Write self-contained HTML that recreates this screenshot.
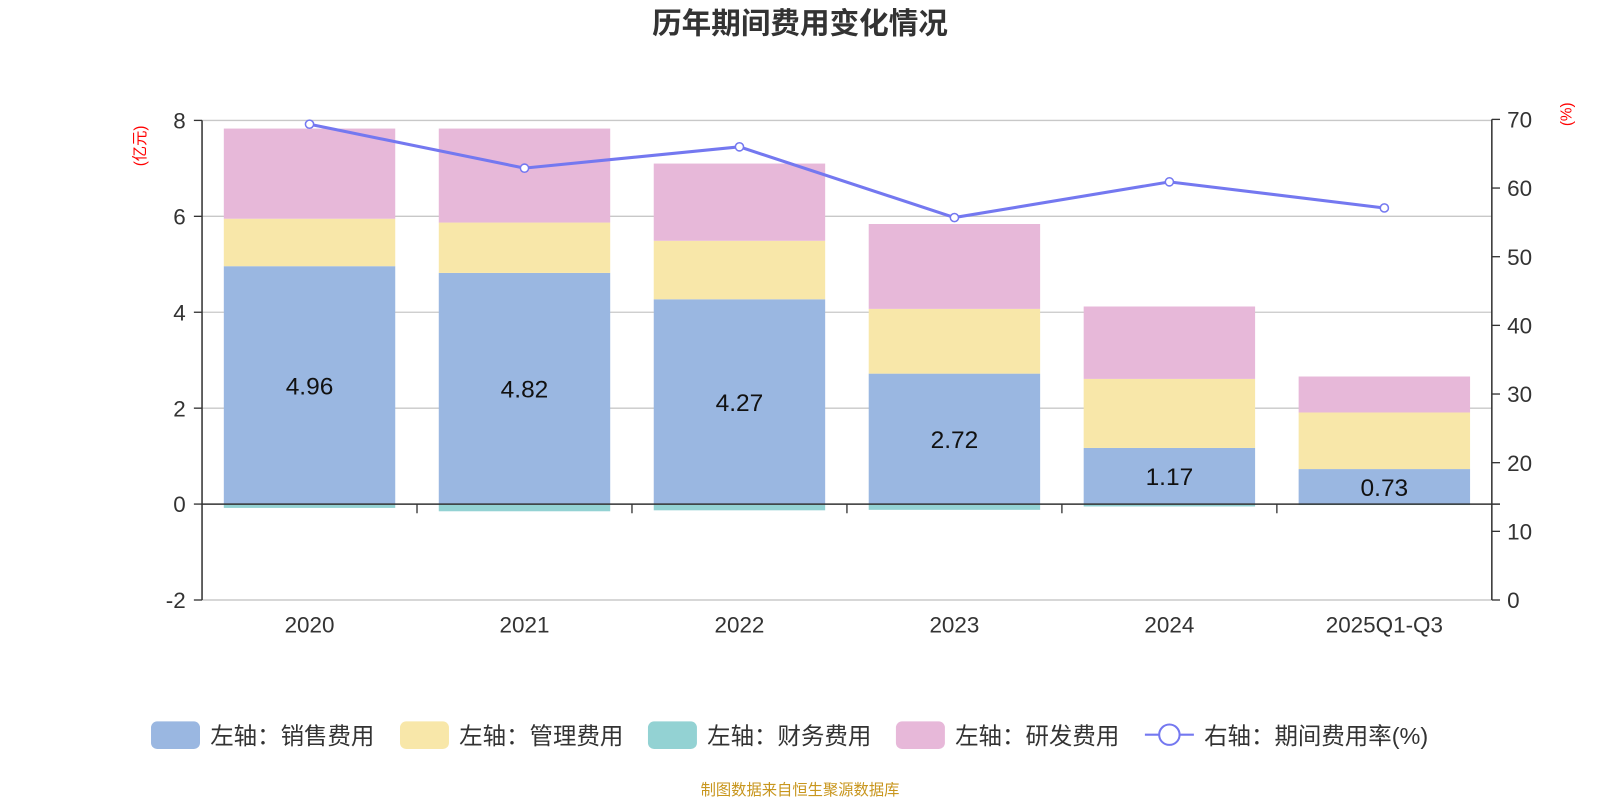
<!DOCTYPE html>
<html><head><meta charset="utf-8"><style>
body{margin:0;background:#fff;}
svg{display:block;font-family:"Liberation Sans","Noto Sans CJK SC",sans-serif;}
</style></head><body>
<svg id="chart" width="1600" height="800" viewBox="0 0 1568 784" preserveAspectRatio="none">
<text x="784" y="33" text-anchor="middle" font-size="29" font-weight="bold" fill="#333">历年期间费用变化情况</text>
<g id="grid"></g><g id="bars"></g><g id="axes"></g><g id="line"></g>
<text transform="translate(142,143) rotate(-90)" text-anchor="middle" font-size="15" fill="red">(亿元)</text>
<text transform="translate(1540,112) rotate(-90)" text-anchor="middle" font-size="15" fill="red">(%)</text>
<g id="legend"></g>
<text x="784" y="779" text-anchor="middle" font-size="15" fill="#c8961e">制图数据来自恒生聚源数据库</text>
</svg>
<script>
const categories=["2020","2021","2022","2023","2024","2025Q1-Q3"];
const sales=[4.96,4.82,4.27,2.72,1.17,0.73];
const mgmt=[0.99,1.05,1.22,1.35,1.44,1.18];
const finance=[-0.08,-0.15,-0.13,-0.12,-0.05,-0.02];
const rnd=[1.88,1.96,1.61,1.77,1.51,0.75];
const rate=[69.3,62.9,66.0,55.7,60.9,57.1];
const leftTicks=[-2,0,2,4,6,8];
const rightTicks=[0,10,20,30,40,50,60,70];

const NS="http://www.w3.org/2000/svg";
const X0=198,X1=1462,band=(X1-X0)/categories.length,barW=168;
const yL=v=>494-v*47;
const yR=v=>588-v*(471/70);
const xC=i=>X0+band*(i+0.5);
function mk(parent,tag,attrs,text){const e=document.createElementNS(NS,tag);for(const k in attrs)e.setAttribute(k,attrs[k]);if(text!==undefined)e.textContent=text;document.getElementById(parent).appendChild(e);return e;}

leftTicks.forEach(t=>{
  const y=yL(t);
  if(t!==0){const g=mk("grid","line",{x1:X0,x2:X1,y1:y,y2:y,stroke:"#c8c8c8","stroke-width":1.3});
  
  }
  mk("axes","line",{x1:X0-8,x2:X0,y1:y,y2:y,stroke:"#333","stroke-width":1.3});
  const l=mk("axes","text",{x:182,y:y+8,"text-anchor":"end","font-size":22,fill:"#333"},String(t));
  
  
});
rightTicks.forEach(t=>{
  const y=yR(t);
  mk("axes","line",{x1:X1,x2:X1+8,y1:y,y2:y,stroke:"#333","stroke-width":1.3});
  const l=mk("axes","text",{x:1477,y:y+8,"font-size":22,fill:"#333"},String(t));
  
  
});

const colors={sales:"#9ab7e1",mgmt:"#f8e7a9",fin:"#93d2d3",rnd:"#e7b8d9"};
categories.forEach((c,i)=>{
  const x=xC(i)-barW/2;
  let base=0;
  [[sales[i],colors.sales,"bar-sales"],[mgmt[i],colors.mgmt,"bar-management"],[rnd[i],colors.rnd,"bar-rnd"]].forEach(([v,col,n])=>{
    const r=mk("bars","rect",{x:x,y:yL(base+v),width:barW,height:v*47,fill:col});
    
    
    base+=v;
  });
  const f=mk("bars","rect",{x:x,y:yL(0),width:barW,height:-finance[i]*47,fill:colors.fin});
  
  
  const lb=mk("bars","text",{x:xC(i),y:yL(sales[i]/2)+9,"text-anchor":"middle","font-size":24,fill:"#111"},sales[i].toFixed(2));
  
  
  const xl=mk("axes","text",{x:xC(i),y:620,"text-anchor":"middle","font-size":22,fill:"#333"},c);
  
  
});
for(let i=1;i<categories.length;i++){mk("axes","line",{x1:X0+band*i,x2:X0+band*i,y1:494,y2:503,stroke:"#333","stroke-width":1.3});}
mk("axes","line",{x1:X0,x2:X1,y1:588,y2:588,stroke:"#c8c8c8","stroke-width":1.3});
const za=mk("axes","line",{x1:X0,x2:X1+8,y1:494,y2:494,stroke:"#333","stroke-width":1.5});


const la=mk("axes","line",{x1:X0,x2:X0,y1:yL(8),y2:588,stroke:"#333","stroke-width":1.5});


const ra=mk("axes","line",{x1:X1,x2:X1,y1:yR(70),y2:588,stroke:"#333","stroke-width":1.5});



const pts=rate.map((v,i)=>xC(i)+","+yR(v)).join(" ");
const pl=mk("line","polyline",{points:pts,fill:"none",stroke:"#7478f0","stroke-width":3});


rate.forEach((v,i)=>{
  const p=mk("line","circle",{cx:xC(i),cy:yR(v),r:4,fill:"#fff",stroke:"#7478f0","stroke-width":1.5});
  
  
});

const leg=[["左轴：销售费用",colors.sales,148],["左轴：管理费用",colors.mgmt,392],["左轴：财务费用",colors.fin,635],["左轴：研发费用",colors.rnd,878]];
leg.forEach(([t,col,x])=>{
  const r=mk("legend","rect",{x:x,y:707,width:48,height:27,rx:6,fill:col});
  
  
  const tx=mk("legend","text",{x:x+58,y:729,"font-size":23,fill:"#333"},t);
  
  
});
mk("legend","line",{x1:1122,x2:1170,y1:720,y2:720,stroke:"#7478f0","stroke-width":2});
mk("legend","circle",{cx:1146,cy:720,r:10,fill:"#fff",stroke:"#7478f0","stroke-width":2});
const lt=mk("legend","text",{x:1180,y:729,"font-size":23,fill:"#333"},"右轴：期间费用率(%)");


</script>
</body></html>
